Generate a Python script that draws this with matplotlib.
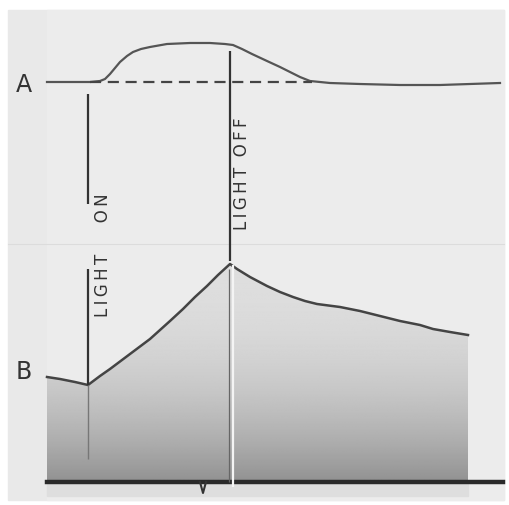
import matplotlib.pyplot as plt
import numpy as np
from matplotlib.patches import Rectangle

# trace A (upper record): time and pen position
a_time = [47, 90, 100, 105, 110, 115, 120, 127, 133, 141, 150, 167, 190, 210, 225, 233, 242, 252, 267, 280, 290, 300, 310, 330, 360, 400, 440, 470, 500]
a_value = [83, 83, 82, 80, 75, 69, 63, 57, 53, 50, 48, 45, 44, 44, 45, 46, 50, 55, 62, 68, 73, 78, 82, 84, 85, 86, 86, 85, 84]

# trace B (lower record)
b_time = [47, 60, 75, 88, 100, 110, 130, 150, 170, 183, 195, 207, 218, 230, 237, 250, 267, 280, 293, 305, 317, 340, 360, 380, 400, 420, 433, 450, 468]
b_value = [378, 380, 383, 386, 377, 370, 355, 340, 322, 310, 298, 287, 276, 265, 270, 278, 287, 293, 298, 302, 305, 308, 312, 317, 322, 326, 330, 333, 336]

baseline_y = 483
dash_span = (90, 312)
light_on = 88
light_off = 230
tick_time = 203

fig = plt.figure(figsize=(5.09, 5.06), dpi=100)
ax = fig.add_axes([0, 0, 1, 1])
ax.set_xlim(0, 509)
ax.set_ylim(506, 0)
ax.axis('off')
fig.patch.set_facecolor('white')

# paper
ax.add_patch(Rectangle((8, 11), 496, 490, color='#e9e9e9', zorder=0))
ax.add_patch(Rectangle((47, 11), 457, 490, color='#ececec', zorder=0))
ax.plot([8, 504], [245, 245], color='#dcdcdc', lw=0.8, zorder=1)

# shaded record under B
fill = ax.fill_between(b_time, b_value, baseline_y, color='none', zorder=2)
grad = np.linspace(0, 1, 256)[:, None] ** 2.2
cols = 0.87 - 0.30 * grad
img = ax.imshow(np.repeat(cols, 2, axis=1), cmap='gray', vmin=0, vmax=1,
                extent=[47, 468, baseline_y, 265], aspect='auto', zorder=2)
img.set_clip_path(fill.get_paths()[0], transform=ax.transData)
ax.add_patch(Rectangle((47, baseline_y), 421, 14, color='#dedede', zorder=2))

# traces
ax.plot(a_time, a_value, color='#555555', lw=1.6, zorder=4)
ax.plot(b_time, b_value, color='#444444', lw=1.8, zorder=4)
ax.plot([47, 503], [baseline_y, baseline_y], color='#2a2a2a', lw=3.2, zorder=4)
ax.plot([tick_time - 3, tick_time, tick_time + 3], [baseline_y, baseline_y + 11, baseline_y], color='#333333', lw=1.5, zorder=4)
ax.hlines(a_value[0], dash_span[0], dash_span[1], colors='#444444', lw=1.6,
          linestyles=(0, (5, 3)), zorder=4)

# stimulus marks
ax.vlines(light_on, 95, 205, colors='#333333', lw=1.6, zorder=5)
ax.vlines(light_on, 270, 386, colors='#333333', lw=1.6, zorder=5)
ax.vlines(light_on, 386, 460, colors='#777777', lw=1.0, zorder=5)
ax.vlines(light_off, 52, 262, colors='#333333', lw=1.6, zorder=5)
ax.vlines(light_off - 1, 270, baseline_y, colors='#666666', lw=0.9, zorder=5)
ax.vlines(light_off + 3, 266, baseline_y + 5, colors='#f4f4f4', lw=1.6, zorder=5)

ts = '\u2009'
ax.text(light_on + 15, 255, ts.join('LIGHT') + '      ' + ts.join('ON'), rotation=90,
        ha='center', va='center', fontsize=12, color='#333333', zorder=6)
ax.text(light_off + 12, 174, ts.join('LIGHT') + '  ' + ts.join('OFF'), rotation=90,
        ha='center', va='center', fontsize=12, color='#333333', zorder=6)
ax.text(24, 85, 'A', ha='center', va='center', fontsize=17, color='#333333')
ax.text(24, 372, 'B', ha='center', va='center', fontsize=17, color='#333333')

fig.savefig('out.png', dpi=100)
